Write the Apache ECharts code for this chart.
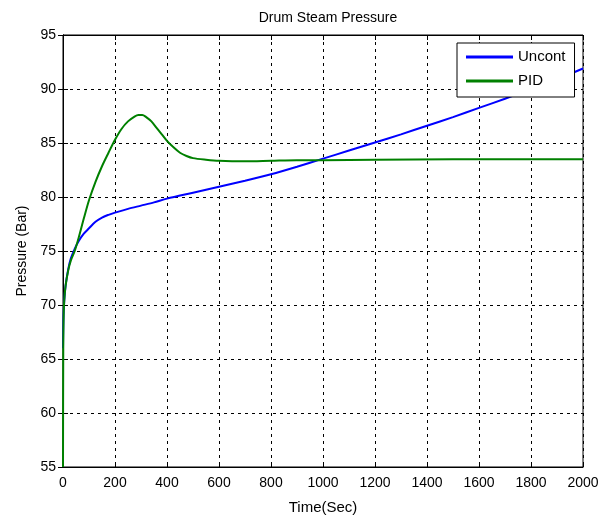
<!DOCTYPE html>
<html>
<head>
<meta charset="utf-8">
<script src="https://cdn.jsdelivr.net/npm/echarts@6/dist/echarts.min.js"></script>
<style>html,body{margin:0;padding:0;background:#fff;}#c{width:610px;height:520px;}</style>
</head>
<body>
<div id="c"></div>
<script>
const xTicks = [0,200,400,600,800,1000,1200,1400,1600,1800,2000];
const yTicks = [55,60,65,70,75,80,85,90,95];

const uncontTime = [0,2,5,10,20,30,45,60,80,100,125,150,175,200,250,300,350,400,500,600,700,800,900,1000,1100,1200,1300,1400,1500,1600,1700,1800,1900,2000];
const uncontValue = [66,69,70.5,71.8,73.3,74.3,75.2,75.9,76.6,77.1,77.7,78.1,78.35,78.55,78.9,79.2,79.5,79.85,80.4,80.95,81.5,82.1,82.8,83.55,84.3,85.05,85.8,86.6,87.4,88.25,89.1,90.0,90.9,91.9];

const pidTime = [0,1,3,6,10,20,30,45,60,80,100,125,150,175,200,225,250,275,290,305,320,340,360,380,400,425,450,475,500,550,600,700,800,900,1000,1200,1500,2000];
const pidValue = [55,66,69.5,70.8,71.8,73.2,74.1,75.0,76.2,78.0,79.7,81.4,82.85,84.1,85.3,86.3,87.0,87.45,87.6,87.6,87.4,87.0,86.4,85.8,85.2,84.6,84.1,83.8,83.6,83.45,83.35,83.3,83.35,83.4,83.4,83.45,83.5,83.5];

const font = 'Liberation Sans, Arial, sans-serif';
const zip = (a, b) => a.map((v, i) => [v, b[i]]);

const chart = echarts.init(document.getElementById('c'), null, {renderer: 'canvas'});
const baseAxis = {
  axisLine: {show: true, lineStyle: {color: '#000', width: 1}},
  axisTick: {show: true, inside: true, length: 5, lineStyle: {color: '#000'}},
};
chart.setOption({
  backgroundColor: '#fff',
  animation: false,
  title: {
    text: 'Drum Steam Pressure',
    left: 323, top: 6, textAlign: 'center',
    textStyle: {fontFamily: font, fontSize: 14, fontWeight: 'normal', color: '#000'}
  },
  grid: {left: 63, right: 27, top: 35, bottom: 53, show: true, borderColor: '#000', borderWidth: 1},
  legend: {
    left: 457, top: 43, orient: 'vertical',
    padding: [6, 9, 8, 9],
    itemGap: 8, itemWidth: 47, itemHeight: 3,
    backgroundColor: '#fff', borderColor: '#000', borderWidth: 1,
    icon: 'rect',
    textStyle: {fontFamily: font, fontSize: 15, color: '#000', lineHeight: 16},
    data: ['Uncont', 'PID']
  },
  xAxis: [
    Object.assign({}, baseAxis, {
      type: 'value', min: 0, max: 2000, interval: 200, position: 'bottom',
      name: 'Time(Sec)', nameLocation: 'middle', nameGap: 33,
      nameTextStyle: {fontFamily: font, fontSize: 15, color: '#000'},
      axisLabel: {fontFamily: font, fontSize: 14, color: '#000', margin: 9,
        formatter: v => xTicks.includes(v) ? String(v) : ''},
      splitLine: {show: true, lineStyle: {color: '#000', type: [3, 4], width: 1}}
    }),
    Object.assign({}, baseAxis, {
      type: 'value', min: 0, max: 2000, interval: 200, position: 'top',
      axisLabel: {show: false}, splitLine: {show: false}
    })
  ],
  yAxis: [
    Object.assign({}, baseAxis, {
      type: 'value', min: 55, max: 95, interval: 5, position: 'left',
      name: 'Pressure (Bar)', nameLocation: 'middle', nameGap: 33,
      nameTextStyle: {fontFamily: font, fontSize: 14, color: '#000'},
      axisLabel: {fontFamily: font, fontSize: 14, color: '#000', margin: 7,
        formatter: v => yTicks.includes(v) ? String(v) : ''},
      splitLine: {show: true, lineStyle: {color: '#000', type: [3, 4], width: 1}}
    }),
    Object.assign({}, baseAxis, {
      type: 'value', min: 55, max: 95, interval: 5, position: 'right',
      axisLabel: {show: false}, splitLine: {show: false}
    })
  ],
  series: [
    {name: 'Uncont', type: 'line', xAxisIndex: 0, yAxisIndex: 0, data: zip(uncontTime, uncontValue),
     symbol: 'none', smooth: 0.3, color: '#0000ff', lineStyle: {color: '#0000ff', width: 2}},
    {name: 'PID', type: 'line', xAxisIndex: 0, yAxisIndex: 0, data: zip(pidTime, pidValue),
     symbol: 'none', smooth: 0.3, color: '#008000', lineStyle: {color: '#008000', width: 2}}
  ]
});
</script>
</body>
</html>
